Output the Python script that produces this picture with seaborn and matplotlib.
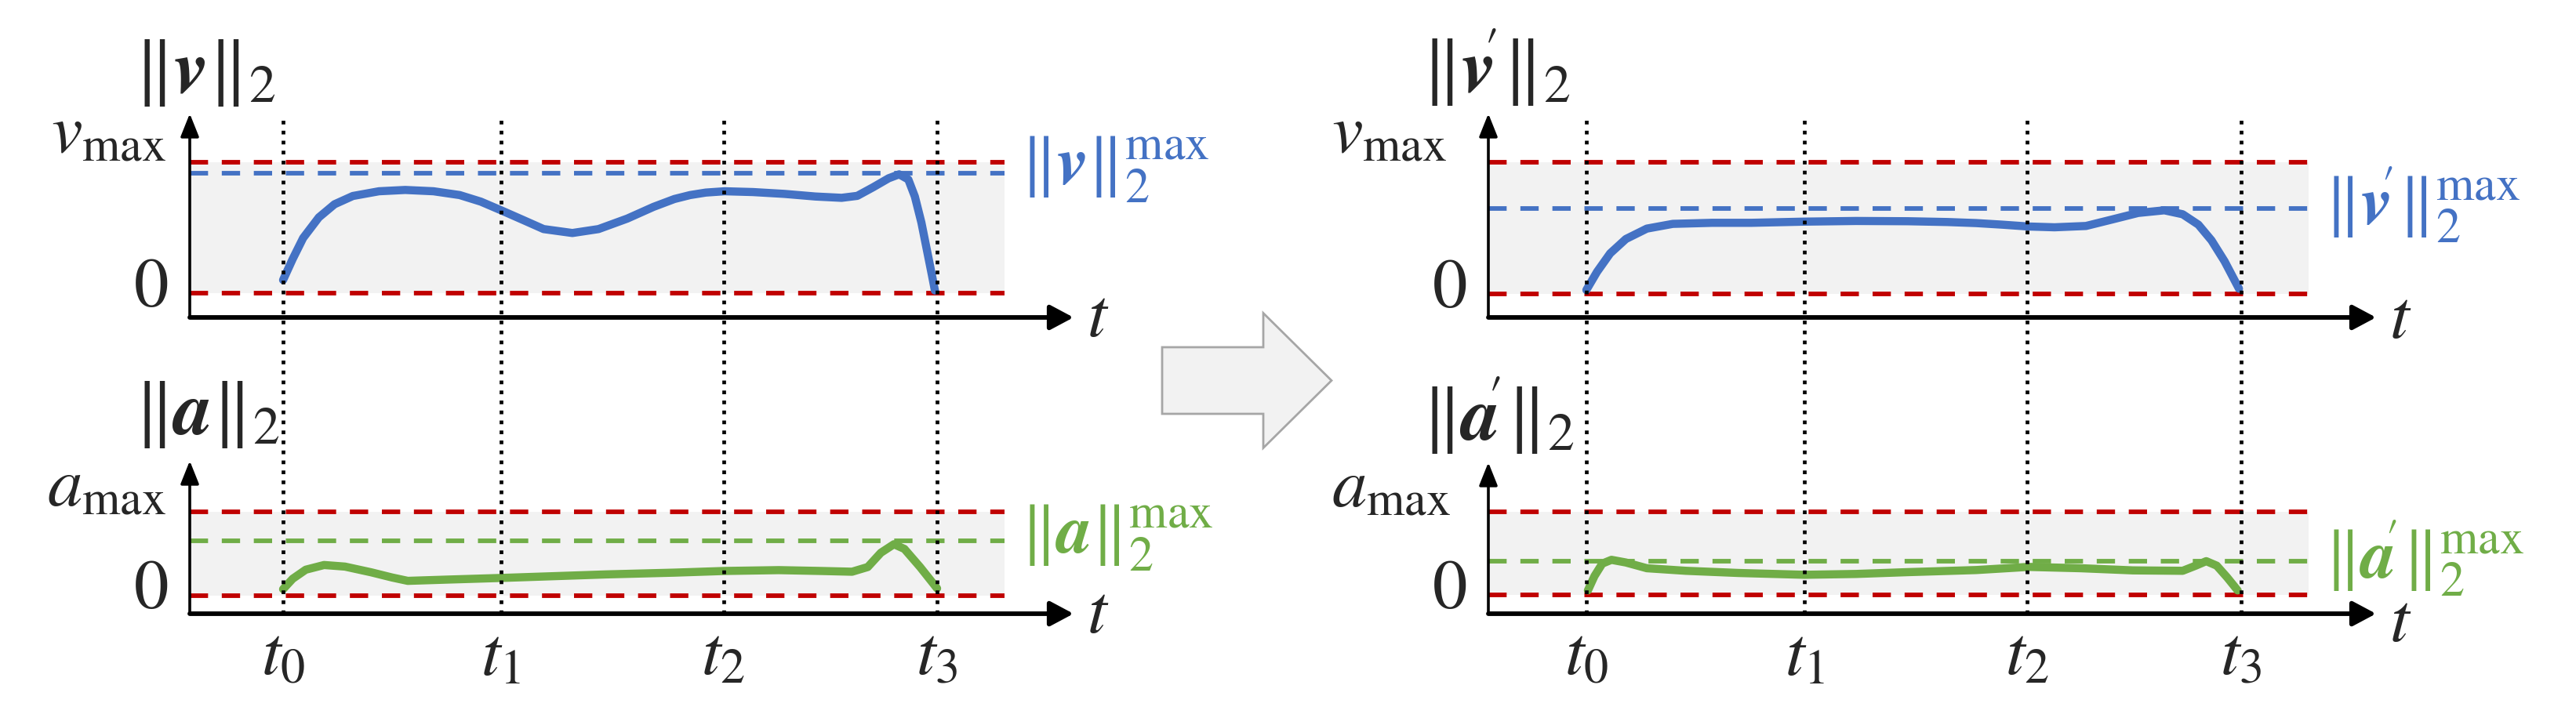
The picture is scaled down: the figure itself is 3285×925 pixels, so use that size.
import matplotlib
matplotlib.use("Agg")
import matplotlib.pyplot as plt
import seaborn as sns
from matplotlib.patches import FancyArrow

# ---------------------------------------------------------------------------
# Data (y in units of v_max / a_max)
# ---------------------------------------------------------------------------
T_MARKS = [0.0, 1.0, 2.02, 3.0]
T_LABELS = [r"$t_0$", r"$t_1$", r"$t_2$", r"$t_3$"]

# original velocity norm ||v||_2
V_T = [0.0, 0.044, 0.092, 0.164, 0.236, 0.32, 0.44, 0.56, 0.69, 0.81, 0.907,
       1.0, 1.1, 1.195, 1.327, 1.447, 1.579, 1.699, 1.795, 1.867, 1.939,
       2.026, 2.155, 2.299, 2.442, 2.562, 2.634, 2.706, 2.778, 2.826, 2.868,
       2.898, 2.928, 2.952, 2.976, 2.99]
V_VAL = [0.10, 0.26, 0.42, 0.577, 0.677, 0.74, 0.776, 0.786, 0.776, 0.747,
         0.697, 0.631, 0.558, 0.488, 0.458, 0.488, 0.568, 0.657, 0.717, 0.747,
         0.766, 0.776, 0.770, 0.756, 0.736, 0.726, 0.741, 0.806, 0.875, 0.905,
         0.866, 0.736, 0.538, 0.339, 0.14, 0.02]
V_PEAK = 0.915

# original acceleration norm ||a||_2
A_T = [0.0, 0.044, 0.104, 0.188, 0.284, 0.404, 0.5, 0.572, 0.764, 1.004,
       1.244, 1.483, 1.795, 2.026, 2.274, 2.466, 2.61, 2.682, 2.742, 2.802,
       2.85, 2.922, 3.0]
A_VAL = [0.073, 0.197, 0.305, 0.361, 0.342, 0.274, 0.212, 0.172, 0.188, 0.207,
         0.228, 0.249, 0.27, 0.29, 0.30, 0.29, 0.281, 0.337, 0.507, 0.609,
         0.553, 0.337, 0.082]
A_PEAK = 0.645

# re-timed velocity norm ||v'||_2
V2_T = [0.0, 0.049, 0.109, 0.181, 0.277, 0.396, 0.576, 0.756, 1.0, 1.235,
        1.474, 1.654, 1.786, 1.905, 2.025, 2.145, 2.289, 2.408, 2.528, 2.648,
        2.732, 2.804, 2.864, 2.924, 2.99]
V2_VAL = [0.03, 0.168, 0.308, 0.417, 0.496, 0.532, 0.540, 0.540, 0.549, 0.554,
          0.552, 0.546, 0.538, 0.526, 0.512, 0.506, 0.516, 0.565, 0.615, 0.635,
          0.605, 0.526, 0.407, 0.248, 0.04]
V2_PEAK = 0.651

# re-timed acceleration norm ||a'||_2
A2_T = [0.007, 0.037, 0.073, 0.115, 0.181, 0.277, 0.456, 0.696, 1.0, 1.235,
        1.474, 1.786, 2.025, 2.265, 2.504, 2.732, 2.792, 2.84, 2.888, 2.936,
        2.984]
A2_VAL = [0.054, 0.226, 0.377, 0.422, 0.39, 0.321, 0.29, 0.264, 0.242, 0.252,
          0.274, 0.299, 0.337, 0.321, 0.295, 0.29, 0.352, 0.406, 0.352, 0.21,
          0.054]
A2_PEAK = 0.408

BAND_END = 3.31

# ---------------------------------------------------------------------------
# Style
# ---------------------------------------------------------------------------
sns.set_style("white")
plt.rcParams["mathtext.fontset"] = "stix"
plt.rcParams["font.family"] = ["STIXGeneral", "DejaVu Serif"]

BLUE = "#4472C4"
GREEN = "#70AD47"
RED = "#C00000"
BAND = "#F2F2F2"
FS = 64
FS_TITLE = 70
DASH = (0, (4.0, 3.0))
PRIME = r"^{\!\!\prime}"

W, H = 3285, 925
fig = plt.figure(figsize=(W / 100, H / 100), dpi=100)


def px_axes(left, top, right, bottom):
    return fig.add_axes([left / W, 1 - bottom / H, (right - left) / W, (bottom - top) / H])


def lims(p0, p1, v0, v1, a, b):
    # map pixel positions p0->v0, p1->v1, return limits at pixels a, b
    s = (v1 - v0) / (p1 - p0)
    return v0 + (a - p0) * s, v0 + (b - p0) * s


def panel(box, tpx, zero_px, one_px, t, y, peak, color, title, ymax_lbl,
          peak_lbl, lbl_dx, title_dx, title_dy, max_dy, t_dy, ticks=False):
    left, top, right, bottom = box
    ax = px_axes(*box)
    xlim = lims(tpx[0], tpx[1], T_MARKS[0], T_MARKS[-1], left, right)
    ylim = lims(zero_px, one_px, 0.0, 1.0, bottom, top)
    ax.set_xlim(*xlim)
    ax.set_ylim(*ylim)
    ax.patch.set_alpha(0)
    for s in ax.spines.values():
        s.set_visible(False)

    ax.fill_between([xlim[0], BAND_END], 0, 1, color=BAND, lw=0, zorder=0)
    ax.hlines([0, 1], xlim[0], BAND_END, colors=RED, lw=4.2,
              linestyles=[DASH], zorder=2)
    ax.hlines(peak, xlim[0], BAND_END, colors=color, lw=4.2,
              linestyles=[DASH], zorder=2)
    sns.lineplot(x=t, y=y, ax=ax, color=color, lw=7.5, sort=False,
                 solid_capstyle="round", solid_joinstyle="round", zorder=3)

    # axis arrows
    ax.annotate("", xy=(1, 0), xytext=(0, 0), xycoords="axes fraction",
                arrowprops=dict(arrowstyle="-|>,head_length=0.45,head_width=0.24",
                                lw=4.2, color="black", mutation_scale=40,
                                shrinkA=0, shrinkB=0))
    ax.annotate("", xy=(0, 1), xytext=(0, 0), xycoords="axes fraction",
                arrowprops=dict(arrowstyle="-|>,head_length=0.45,head_width=0.18",
                                lw=2.6, color="black", mutation_scale=40,
                                shrinkA=0, shrinkB=0))

    if ticks:
        ax.set_xticks(T_MARKS, T_LABELS, fontsize=FS)
        ax.tick_params(axis="x", length=0, pad=12)
    else:
        ax.set_xticks([])
    ax.set_yticks([])
    ax.set_xlabel("")
    ax.set_ylabel("")

    ytr = ax.get_yaxis_transform()
    ax.annotate(r"$0$", xy=(0, 0), xycoords=ytr, xytext=(-20, 3),
                textcoords="offset points", ha="right", va="center", fontsize=FS)
    ax.annotate(ymax_lbl, xy=(0, 1), xycoords=ytr, xytext=(-lbl_dx, max_dy),
                textcoords="offset points", ha="right", va="bottom", fontsize=FS)
    ax.annotate(title, xy=(0, 1), xycoords="axes fraction", xytext=(-title_dx, title_dy),
                textcoords="offset points", ha="left", va="bottom", fontsize=FS_TITLE)
    ax.annotate(r"$t$", xy=(1, 0), xycoords="axes fraction", xytext=(12, t_dy),
                textcoords="offset points", ha="left", va="center", fontsize=FS)
    ax.annotate(peak_lbl, xy=(3.38, peak), xycoords="data", xytext=(0, 3),
                textcoords="offset points", color=color, ha="left", va="center",
                fontsize=FS, annotation_clip=False)
    return ax


def time_lines(box, tpx):
    left, top, right, bottom = box
    ax = px_axes(*box)
    ax.set_xlim(*lims(tpx[0], tpx[1], T_MARKS[0], T_MARKS[-1], left, right))
    ax.set_axis_off()
    for tm in T_MARKS:
        ax.axvline(tm, color="black", lw=3.4, linestyle=(0, (1, 1.7)), zorder=5)


# left column (original)
LT = (361, 1195)
panel((242, 145, 1369, 405), LT, 374, 206.5, V_T, V_VAL, V_PEAK, BLUE,
      r"$\Vert\boldsymbol{v}\Vert_2$", r"$v_{\max}$",
      r"$\Vert\boldsymbol{v}\Vert_2^{\max}$", 21, 51, 4, -5, -2)
panel((242, 588, 1369, 783), LT, 759.5, 652.5, A_T, A_VAL, A_PEAK, GREEN,
      r"$\Vert\boldsymbol{a}\Vert_2$", r"$a_{\max}$",
      r"$\Vert\boldsymbol{a}\Vert_2^{\max}$", 21, 51, 9, -9, -2, ticks=True)
time_lines((242, 147, 1369, 783), LT)

# right column (re-timed)
RT = (2023, 2858)
panel((1898, 145, 3030, 405), RT, 375, 207, V2_T, V2_VAL, V2_PEAK, BLUE,
      r"$\Vert\boldsymbol{v}" + PRIME + r"\Vert_2$", r"$v_{\max}$",
      r"$\Vert\boldsymbol{v}" + PRIME + r"\Vert_2^{\max}$", 38, 61, 4, -5, -4)
panel((1898, 590, 3030, 783), RT, 759, 653, A2_T, A2_VAL, A2_PEAK, GREEN,
      r"$\Vert\boldsymbol{a}" + PRIME + r"\Vert_2$", r"$a_{\max}$",
      r"$\Vert\boldsymbol{a}" + PRIME + r"\Vert_2^{\max}$", 34, 61, 5, -9, -10,
      ticks=True)
time_lines((1898, 147, 3030, 783), RT)

# big gray arrow between the two columns
fig.add_artist(FancyArrow(14.82, 4.395, 2.16, 0, width=0.85, head_width=1.72,
                          head_length=0.87, length_includes_head=True,
                          facecolor="#F2F2F2", edgecolor="#A6A6A6", lw=2,
                          transform=fig.dpi_scale_trans))

fig.savefig("out.png", dpi=100, facecolor="white")
